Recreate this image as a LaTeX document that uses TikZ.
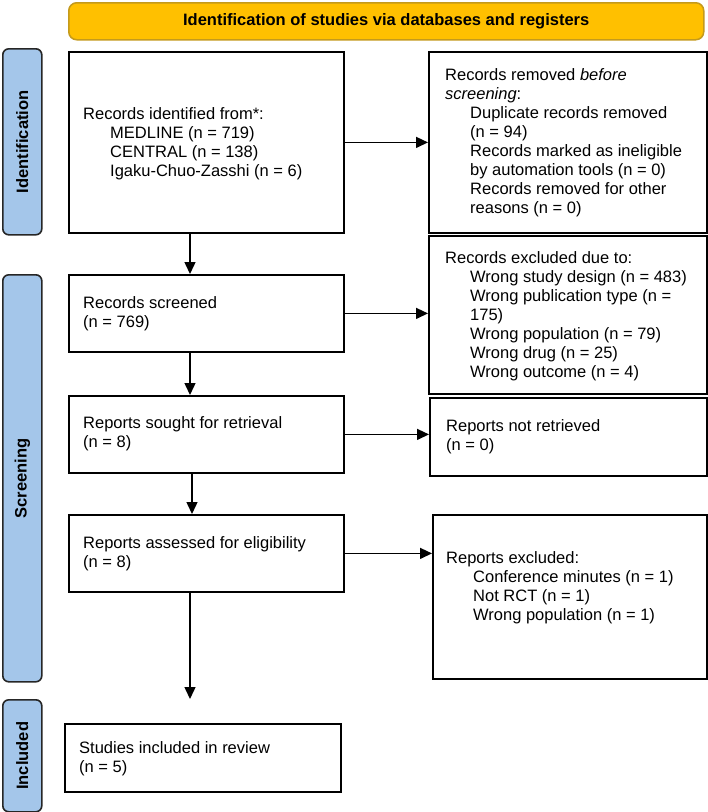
\documentclass[tikz,border=0pt]{standalone}
\usepackage{fontspec}
\setmainfont{Liberation Sans}
\usetikzlibrary{arrows.meta}
\definecolor{headfill}{HTML}{FFC000}
\definecolor{headdraw}{HTML}{C49A1C}
\definecolor{sidefill}{HTML}{A4C6EA}
\newcommand\myind{\hspace*{25pt}}
\newcommand\myindb{\hspace*{27pt}}
\begin{document}
\begin{tikzpicture}[x=1pt,y=-1pt,
  box/.style={draw=black, line width=1.8pt, rectangle, anchor=north west, inner sep=0pt},
  side/.style={draw=black!85, fill=sidefill, line width=1.6pt, rounded corners=6pt, rectangle, anchor=north west, inner sep=0pt},
  txt/.style={anchor=west, align=left, inner sep=0pt, font=\fontsize{16.5}{19}\selectfont},
  sidetxt/.style={rotate=90, inner sep=0pt, font=\bfseries\fontsize{16.5}{19}\selectfont},
  arr/.style={line width=1.4pt, -{Triangle[length=12pt,width=11pt]}}]
\useasboundingbox (0,0) rectangle (708,812);
% header
\node[draw=headdraw, fill=headfill, line width=1.5pt, rounded corners=8pt, minimum width=635pt, minimum height=37pt, anchor=north west, inner sep=0pt, font=\bfseries\fontsize{16.5}{19}\selectfont] (head) at (68,2) {Identification of studies via databases and registers};
% side bars
\node[side, minimum width=39pt, minimum height=186pt] (sideid) at (2,48) {};
\node[side, minimum width=39pt, minimum height=407pt] (sidescr) at (2,274) {};
\node[side, minimum width=39pt, minimum height=112pt] (sideinc) at (2,699) {};
\node[sidetxt] (lblid) at (sideid.center) {Identification};
\node[sidetxt] (lblscr) at (sidescr.center) {Screening};
\node[sidetxt] (lblinc) at (sideinc.center) {Included};
% boxes
\node[box, minimum width=275pt, minimum height=181pt] (ident) at (68,51) {};
\node[box, minimum width=278pt, minimum height=181pt] (removed) at (428,51) {};
\node[box, minimum width=278pt, minimum height=158pt] (excluded) at (428,235) {};
\node[box, minimum width=275pt, minimum height=77pt] (screened) at (68,274) {};
\node[box, minimum width=275pt, minimum height=77pt] (sought) at (68,395) {};
\node[box, minimum width=277pt, minimum height=78pt] (notret) at (429,397) {};
\node[box, minimum width=275pt, minimum height=77pt] (assessed) at (68,514) {};
\node[box, minimum width=274pt, minimum height=164pt] (repexcl) at (432,514) {};
\node[box, minimum width=276pt, minimum height=68pt] (studies) at (64,723) {};
% texts
\node[txt] (identtxt) at (83,143.5) {Records identified from*:\\\myindb MEDLINE (n = 719)\\\myindb CENTRAL (n = 138)\\\myindb Igaku-Chuo-Zasshi (n = 6)};
\node[txt] (removedtxt) at (445,143) {Records removed \textit{before}\\\textit{screening}:\\\myind Duplicate records removed\\\myind (n = 94)\\\myind Records marked as ineligible\\\myind by automation tools (n = 0)\\\myind Records removed for other\\\myind reasons (n = 0)};
\node[txt] (excltxt) at (445,316) {Records excluded due to:\\\myind Wrong study design (n = 483)\\\myind Wrong publication type (n =\\\myind 175)\\\myind Wrong population (n = 79)\\\myind Wrong drug (n = 25)\\\myind Wrong outcome (n = 4)};
\node[txt] (screenedtxt) at (83,314) {Records screened\\(n = 769)};
\node[txt] (soughttxt) at (83,434) {Reports sought for retrieval\\(n = 8)};
\node[txt] (notrettxt) at (446,437) {Reports not retrieved\\(n = 0)};
\node[txt] (assessedtxt) at (83,553.5) {Reports assessed for eligibility\\(n = 8)};
\node[txt] (repexcltxt) at (446,588) {Reports excluded:\\\myindb Conference minutes (n = 1)\\\myindb Not RCT (n = 1)\\\myindb Wrong population (n = 1)};
\node[txt] (studiestxt) at (79,758.5) {Studies included in review\\(n = 5)};
% arrows
\draw[arr] (ident.east) -- (removed.west);
\draw[arr] ([xshift=122pt]ident.south west) -- ([xshift=122pt]screened.north west);
\draw[arr] (screened.east) -- (screened.east -| excluded.west);
\draw[arr] ([xshift=122pt]screened.south west) -- ([xshift=122pt]sought.north west);
\draw[arr] (sought.east) -- (sought.east -| notret.west);
\draw[arr] ([xshift=124pt]sought.south west) -- ([xshift=124pt]assessed.north west);
\draw[arr] (assessed.east) -- (assessed.east -| repexcl.west);
\coordinate (incend) at (190,699);
\draw[arr] (incend |- assessed.south) -- (incend);
\end{tikzpicture}
\end{document}
